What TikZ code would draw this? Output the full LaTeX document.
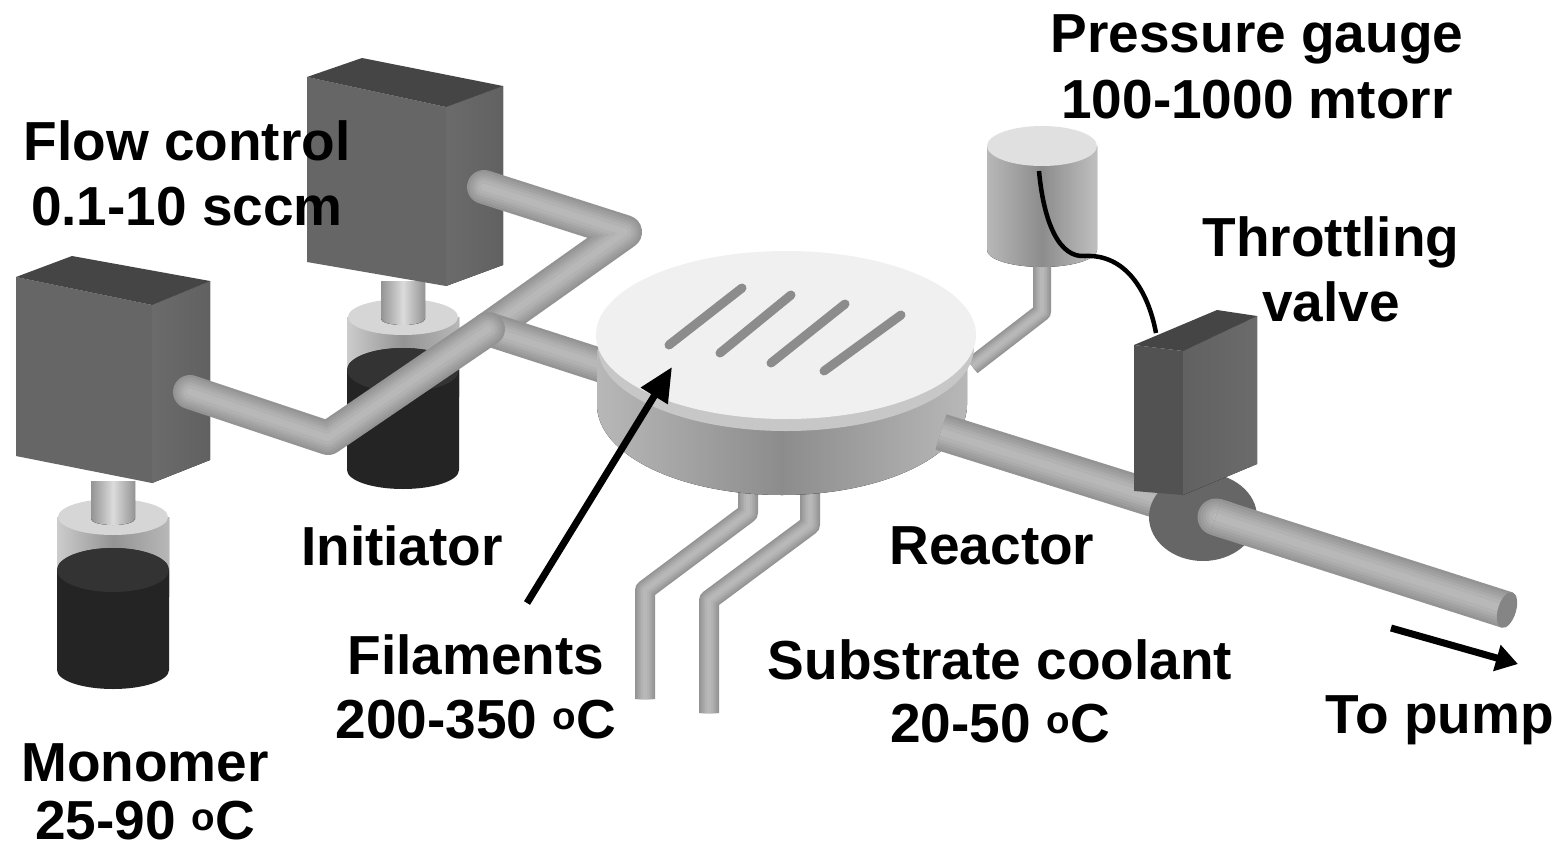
\documentclass[tikz,border=0pt]{standalone}
\usepackage{fontspec}
\setmainfont{Liberation Sans}
\usetikzlibrary{arrows.meta}
\tikzset{
  lab/.style={font=\fontsize{55}{60}\selectfont\bfseries,inner sep=0pt,align=center},
  boxfront/.style={fill=black!60},
  boxside/.style={left color=black!58,right color=black!62},
  boxtop/.style={fill=black!73},
  filament/.style={line width=9,line cap=round,black!45},
  bigarrow/.style={-{Triangle[length=34pt,width=30pt]},line width=7,black}
}
% tube drawn as nested strokes, gives the round look
\newcommand{\tube}[3][round]{
  \foreach \f/\g in {1/42,.85/39,.7/36,.55/33,.4/30,.2/28} {
    \draw[line width=\f*#2pt,black!\g,line cap=#1,line join=round] #3;
  }
}
% vial with collar and dark liquid
\newcommand{\vial}[1]{
  \begin{scope}[shift={(#1)}]
    \fill[left color=black!20,right color=black!28,middle color=black!42] (-56,0) -- (-56,80) arc[start angle=180,end angle=360,x radius=56pt,y radius=20pt] -- (56,0) -- cycle;
    \fill[black!86] (-56,53) -- (-56,153) arc[start angle=180,end angle=360,x radius=56pt,y radius=19pt] -- (56,53) arc[start angle=0,end angle=180,x radius=56pt,y radius=22pt] -- cycle;
    \fill[black!80] (0,53) ellipse[x radius=56pt,y radius=22pt];
    \fill[black!16] (0,0) ellipse[x radius=55pt,y radius=18pt];
    \fill[left color=black!42,right color=black!42,middle color=black!14] (-22,-36) -- (-22,2) arc[start angle=180,end angle=360,x radius=22pt,y radius=6pt] -- (22,-36) -- cycle;
  \end{scope}
}
\begin{document}
\begin{tikzpicture}[x=1pt,y=-1pt]
\useasboundingbox (0,0) rectangle (1566,849);
\fill[white] (0,0) rectangle (1566,849);
% upper branch
\vial{403,317}
\fill[boxfront] (307,77) -- (446,107) -- (446,286) -- (307,262) -- cycle;
\fill[boxside] (446,107) -- (503,86) -- (503,265) -- (446,286) -- cycle;
\fill[boxtop] (307,77) -- (362,58) -- (503,86) -- (446,107) -- cycle;
\tube{34}{(484,187) -- (625,232) -- (488,329)}
% lower branch
\vial{113,517}
\fill[boxfront] (16,277) -- (152,305) -- (152,483) -- (16,456) -- cycle;
\fill[boxside] (152,305) -- (210,281) -- (210,460) -- (152,483) -- cycle;
\fill[boxtop] (16,277) -- (72,256) -- (210,281) -- (152,305) -- cycle;
\tube{34}{(612,369) -- (488,329)}
\tube{34}{(190,392) -- (328,438) -- (488,329)}
% gauge
\tube[butt]{18}{(1042,255) -- (1042,312) -- (972,366)}
\fill[left color=black!28,right color=black!25,middle color=black!45] (987,146) -- (987,250) arc[start angle=180,end angle=360,x radius=55pt,y radius=17pt] -- (1097,146) -- cycle;
\fill[black!12] (1042,146) ellipse[x radius=55pt,y radius=20pt];
% coolant lines
\tube[butt]{20}{(748,490) -- (748,513) -- (645,590) -- (645,699)}
\tube[butt]{20}{(810,490) -- (810,525) -- (709,600) -- (709,713)}
% reactor
\fill[left color=black!28,right color=black!28,middle color=black!45] (597,350) -- (597,405) arc[start angle=180,end angle=360,x radius=185pt,y radius=90pt] -- (967,350) -- cycle;
\fill[black!22] (786,347) ellipse[x radius=188pt,y radius=84pt];
\fill[black!6] (786,335) ellipse[x radius=190pt,y radius=84pt];
\draw[filament] (669,345) -- (742,288);
\draw[filament] (720,353) -- (791,295);
\draw[filament] (771,363) -- (845,304);
\draw[filament] (824,371) -- (901,315);
% outlet and valve
\tube[butt]{37}{(941,432) -- (1190,510)}
\fill[black!60] (1203,517) ellipse[x radius=54pt,y radius=44pt];
\fill[black!68] (1134,345) -- (1183,351) -- (1183,495) -- (1134,491) -- cycle;
\fill[left color=black!62,right color=black!58] (1183,351) -- (1257,316) -- (1257,464) -- (1183,495) -- cycle;
\fill[boxtop] (1134,345) -- (1217,310) -- (1257,316) -- (1183,351) -- cycle;
\tube{37}{(1216,517) -- (1226,520)}
\tube[butt]{37}{(1216,517) -- (1507,610)}
\fill[black!48,rotate around={-17:(1507,610)}] (1507,610) ellipse[x radius=9pt,y radius=18.5pt];
% wire
\draw[line width=4.5,black] (1039,171) .. controls (1044,225) and (1060,258) .. (1085,256) .. controls (1125,254) and (1148,290) .. (1156,333);
% arrows
\coordinate (filtail) at (527,603);
\coordinate (filhead) at (672,367);
\coordinate (pumptail) at (1391,628);
\coordinate (pumphead) at (1518,664);
\draw[bigarrow] (filtail) -- (filhead);
\draw[-{Triangle[length=22pt,width=26pt]},line width=7,black] (pumptail) -- (pumphead);
% labels
\node[lab] (gauge) at (1257,39) {Pressure gauge};
\node[lab] (gaugeval) at (1257,100) {100-1000 mtorr};
\node[lab] (flow) at (187,141) {Flow control};
\node[lab] (flowval) at (187,207) {0.1-10 sccm};
\node[lab] (throttle) at (1331,242) {Throttling};
\node[lab] (valve) at (1331,302) {valve};
\node[lab] (init) at (402,546) {Initiator};
\node[lab] (reactor) at (992,546) {Reactor};
\node[lab] (fil) at (476,655) {Filaments};
\node[lab] (filval) at (476,720) {200-350 \textsuperscript{o}C};
\node[lab] (coolant) at (1000,660) {Substrate coolant};
\node[lab] (coolantval) at (1000,724) {20-50 \textsuperscript{o}C};
\node[lab] (pump) at (1440,720) {To pump};
\node[lab] (mono) at (145,763) {Monomer};
\node[lab] (monoval) at (145,821) {25-90 \textsuperscript{o}C};
\end{tikzpicture}
\end{document}
